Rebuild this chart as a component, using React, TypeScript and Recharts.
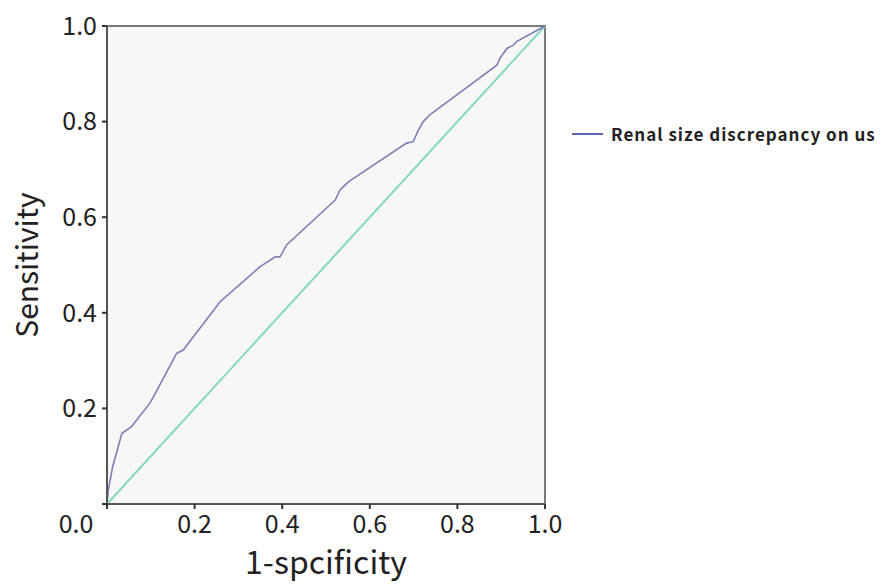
import { LineChart, Line, XAxis, YAxis, ReferenceArea, Label } from "recharts"

if (typeof document !== "undefined") document.body.style.margin = "0"

const fpr = [0, 0.003, 0.013, 0.034, 0.056, 0.098, 0.106, 0.159, 0.174, 0.25, 0.258, 0.349, 0.384, 0.395, 0.41, 0.521, 0.532, 0.551, 0.684, 0.699, 0.711, 0.722, 0.737, 0.89, 0.897, 0.913, 0.928, 0.934, 1]
const tpr = [0, 0.029, 0.078, 0.148, 0.162, 0.211, 0.224, 0.315, 0.322, 0.413, 0.423, 0.496, 0.517, 0.517, 0.542, 0.636, 0.657, 0.674, 0.755, 0.758, 0.782, 0.8, 0.814, 0.918, 0.932, 0.953, 0.96, 0.967, 1]
const refLine = [0, 1]
const ticks = [0, 0.2, 0.4, 0.6, 0.8, 1]
const seriesName = "Renal size discrepancy on us"

const curve = fpr.map((x, i) => ({ x, y: tpr[i] }))
const diagonal = refLine.map((v) => ({ x: v, y: v }))

const font = "'Noto Sans CJK KR', 'Noto Sans', sans-serif"

function XTick(props: any) {
  const { x, y, payload } = props
  const dx = payload.value === 0 ? -31 : 0
  return (
    <text x={x + dx} y={y} dy="0.85em" textAnchor="middle" fontSize={25} fill="#222" fontFamily={font}>
      {payload.value.toFixed(1)}
    </text>
  )
}

function YTick(props: any) {
  const { x, y, payload } = props
  if (payload.value === 0) return <g />
  return (
    <text x={x} y={y} dy="0.35em" textAnchor="end" fontSize={25} fill="#222" fontFamily={font}>
      {payload.value.toFixed(1)}
    </text>
  )
}

export default function App() {
  return (
    <div style={{ position: "relative", width: 882, height: 588 }}>
      <LineChart width={882} height={588} margin={{ top: 26, right: 337, bottom: 24, left: 0 }}>
        <ReferenceArea x1={0} x2={1} y1={0} y2={1} fill="#f7f7f7" fillOpacity={1} stroke="#7a7a7a" strokeWidth={2} />
        <XAxis
          type="number"
          dataKey="x"
          domain={[0, 1]}
          ticks={ticks}
          height={60}
          tickSize={5}
          tickMargin={3}
          tick={<XTick />}
          axisLine={{ stroke: "#555", strokeWidth: 2 }}
          tickLine={{ stroke: "#333", strokeWidth: 2 }}
        >
          <Label value="1-spcificity" position="insideBottom" offset={-10} fontSize={32} fill="#222" fontFamily={font} />
        </XAxis>
        <YAxis
          type="number"
          dataKey="y"
          domain={[0, 1]}
          ticks={ticks}
          width={107}
          tickSize={5}
          tickMargin={5}
          tick={<YTick />}
          axisLine={{ stroke: "#555", strokeWidth: 2 }}
          tickLine={{ stroke: "#333", strokeWidth: 2 }}
        >
          <Label value="Sensitivity" angle={-90} position="insideLeft" offset={27} fontSize={30} fill="#222" fontFamily={font} style={{ textAnchor: "middle" }} />
        </YAxis>
        <Line data={diagonal} dataKey="y" stroke="#86d8bc" strokeWidth={2} dot={false} isAnimationActive={false} />
        <Line data={curve} dataKey="y" name={seriesName} stroke="#7c80b4" strokeWidth={1.6} dot={false} isAnimationActive={false} />
      </LineChart>
      <div
        style={{
          position: "absolute",
          left: 572,
          top: 121,
          display: "flex",
          alignItems: "center",
          fontFamily: font,
          fontWeight: 700,
          fontSize: 17,
          letterSpacing: 1,
          color: "#222",
          whiteSpace: "nowrap",
        }}
      >
        <svg width={32} height={4} style={{ marginRight: 7 }}>
          <line x1={0} y1={2} x2={31} y2={2} stroke="#5b68b8" strokeWidth={2} />
        </svg>
        <span>{seriesName}</span>
      </div>
    </div>
  )
}
